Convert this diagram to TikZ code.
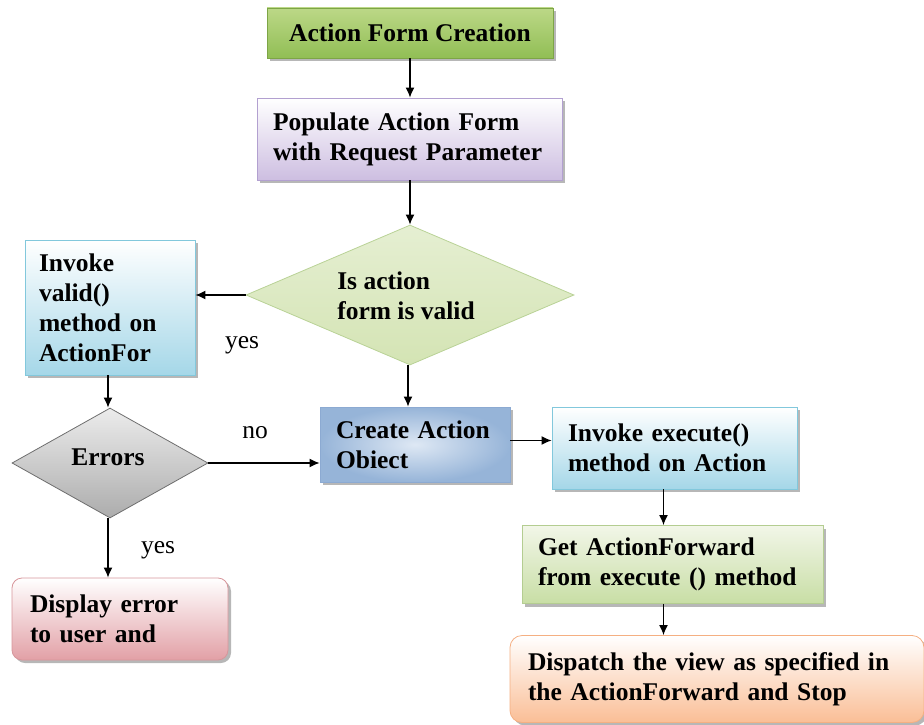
\documentclass[tikz,border=0pt]{standalone}
\usepackage{fontspec}
\setmainfont{Liberation Serif}
\usetikzlibrary{shapes.geometric,shadows,arrows,arrows.meta}

% box colours
\definecolor{creatTop}{RGB}{188,216,135}
\definecolor{creatBot}{RGB}{145,190,85}
\definecolor{creatLine}{RGB}{125,165,70}
\definecolor{popBot}{RGB}{205,190,225}
\definecolor{popLine}{RGB}{178,160,208}
\definecolor{cyanBot}{RGB}{165,215,232}
\definecolor{cyanLine}{RGB}{130,200,220}
\definecolor{validFill}{RGB}{212,228,180}
\definecolor{validLine}{RGB}{185,210,150}
\definecolor{errLine}{RGB}{110,110,110}
\definecolor{dispBot}{RGB}{226,160,166}
\definecolor{dispLine}{RGB}{215,150,155}
\definecolor{objIn}{RGB}{222,232,244}
\definecolor{objOut}{RGB}{150,180,216}
\definecolor{objLine}{RGB}{140,170,210}
\definecolor{fwdTop}{RGB}{242,246,232}
\definecolor{fwdBot}{RGB}{200,222,165}
\definecolor{fwdLine}{RGB}{180,205,145}
\definecolor{stopBot}{RGB}{250,190,150}
\definecolor{stopLine}{RGB}{245,175,130}

\tikzset{
  box/.style={draw, rectangle, line width=0.8pt, align=left,
    font=\fontsize{25.5}{30}\selectfont\bfseries,
    drop shadow={shadow xshift=3pt, shadow yshift=-3pt, fill=gray!80, opacity=0.7}},
  decision/.style={draw, diamond, inner sep=0pt, line width=0.8pt},
  dtext/.style={align=left, font=\fontsize{25.5}{30}\selectfont\bfseries},
  lbl/.style={font=\fontsize{25.5}{30}\selectfont},
  flow/.style={-{Latex[length=10pt,width=9pt]}, line width=1.3pt}
}

\begin{document}
\begin{tikzpicture}[x=1pt,y=-1pt]
  \useasboundingbox (0,0) rectangle (924,725);

  %% main column
  \node[box, draw=creatLine, top color=creatTop, bottom color=creatBot,
        minimum width=286pt, minimum height=50pt, align=center] (creation) at (410,33) {Action Form Creation};
  \node[box, draw=popLine, top color=white, bottom color=popBot,
        text width=273pt, inner xsep=16pt, minimum height=82pt] (populate) at (409.5,139)
        {Populate Action Form\\with Request Parameter};
  \node[decision, draw=validLine, top color=validFill!60!white, bottom color=validFill,
        minimum width=328pt, minimum height=140pt] (valid) at (410,295) {};
  \node[dtext] (validtext) at (406,296) {Is action\\form is valid};

  %% left branch
  \node[box, draw=cyanLine, top color=white, bottom color=cyanBot,
        text width=142pt, inner xsep=14pt, minimum height=135pt] (invvalid) at (110,307.5)
        {Invoke\\valid()\\method on\\ActionFor};
  \node[decision, draw=errLine, top color=gray!15, bottom color=gray!65,
        minimum width=196pt, minimum height=110pt] (errors) at (110,463) {};
  \node[dtext] (errtext) at (108,457) {Errors};
  \node[box, draw=dispLine, top color=white, bottom color=dispBot, rounded corners=10pt,
        text width=180pt, inner xsep=18pt, minimum height=82pt] (display) at (120,619)
        {Display error\\to user and};

  %% right branch
  \node[box, draw=objLine, inner color=objIn, outer color=objOut,
        text width=158pt, inner xsep=16pt, minimum height=75pt] (create) at (415,444.5)
        {Create Action\\Obiect};
  \node[box, draw=cyanLine, top color=white, bottom color=cyanBot,
        text width=213pt, inner xsep=16pt, minimum height=82pt] (invexec) at (674.5,448)
        {Invoke execute()\\method on Action};
  \node[box, draw=fwdLine, top color=fwdTop, bottom color=fwdBot,
        text width=269pt, inner xsep=16pt, minimum height=78pt] (getfwd) at (672.5,564.5)
        {Get ActionForward\\from execute () method};
  \node[box, draw=stopLine, top color=white, bottom color=stopBot, rounded corners=12pt,
        text width=378pt, inner xsep=18pt, minimum height=87pt] (dispatch) at (717,679)
        {Dispatch the view as specified in\\the ActionForward and Stop};

  %% labels
  \node[lbl] (yesvalid) at (242,345) {yes};
  \node[lbl] (noerr) at (255,433) {no};
  \node[lbl] (yeserr) at (158,550) {yes};

  %% connectors
  \draw[flow] (creation.south) -- (creation.south |- populate.north);
  \draw[flow] (populate.south -| valid.north) -- (valid.north);
  \draw[flow] (valid.west) -- (invvalid.east |- valid.west);
  \draw[flow] ([xshift=-2pt]valid.south) -- ([xshift=-2pt]valid.south |- create.north);
  \draw[flow] ([xshift=-2pt]invvalid.south) -- ([xshift=-2pt]invvalid.south |- errors.north);
  \draw[flow] (errors.east) -- (create.west |- errors.east);
  \draw[flow] ([xshift=-2pt]errors.south) -- ([xshift=-2pt]errors.south |- display.north);
  \draw[flow] ([yshift=4pt]create.east) -- ([yshift=4pt]create.east -| invexec.west);
  \draw[flow] ([xshift=-11pt]invexec.south) -- ([xshift=-11pt]invexec.south |- getfwd.north);
  \draw[flow] ([xshift=-9pt]getfwd.south) -- ([xshift=-9pt]getfwd.south |- dispatch.north);
\end{tikzpicture}
\end{document}
